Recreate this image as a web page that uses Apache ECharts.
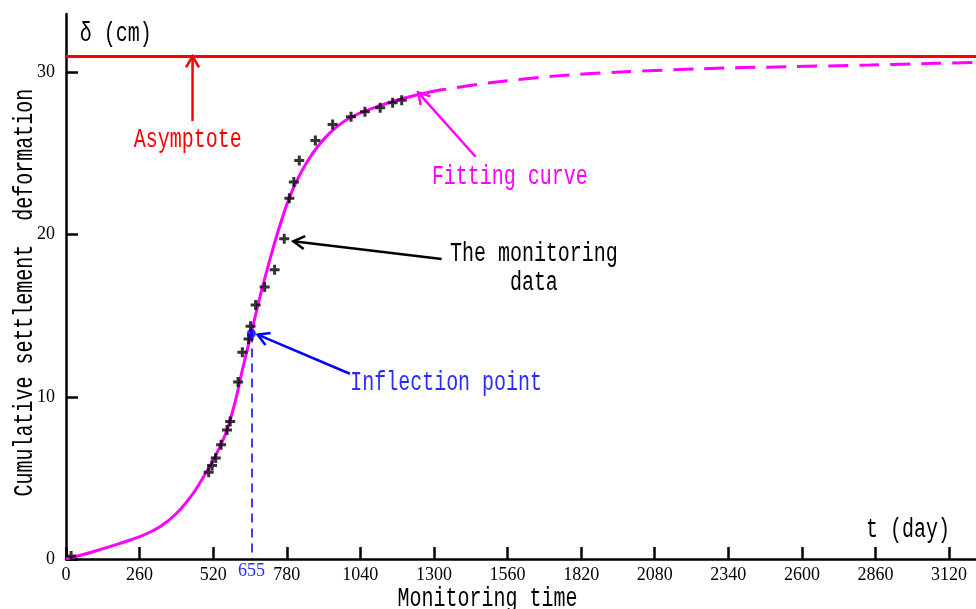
<!DOCTYPE html>
<html lang="en" style="height: 100%">
<head>
<meta charset="utf-8">
<title>Settlement fitting curve</title>
</head>
<body style="height: 100%; margin: 0">
<div id="container" style="height: 100%"></div>

<script type="text/javascript" src="https://cdn.jsdelivr.net/npm/echarts@6/dist/echarts.min.js"></script>

<script type="text/javascript">

var dom = document.getElementById('container');
var myChart = echarts.init(dom);

// axis ticks
var xTicks = [0, 260, 520, 780, 1040, 1300, 1560, 1820, 2080, 2340, 2600, 2860, 3120];
var yTicks = [0, 10, 20, 30];

// monitoring data [day, cm]
var monitoringData = [
    [18, 0.19], [504, 5.35], [516, 5.76], [529, 6.22], [548, 7.04], [569, 7.96],
    [580, 8.48], [608, 10.91], [623, 12.75], [645, 13.56], [652, 14.35], [670, 15.66],
    [702, 16.77], [737, 17.84], [771, 19.75], [789, 22.24], [805, 23.25], [824, 24.57],
    [881, 25.80], [942, 26.79], [1007, 27.27], [1056, 27.57], [1110, 27.82],
    [1154, 28.13], [1186, 28.29]
];

// fitting curve
var fitSolid = [
    [0, 0], [96, 0.45], [261, 1.38], [332, 1.99], [391, 2.82], [450, 4.06],
    [497, 5.4], [532, 6.5], [568, 7.9], [600, 9.85], [625, 11.8], [655, 13.95],
    [680, 15.8], [703, 17.35], [744, 19.9], [791, 22.36], [850, 24.43], [921, 26.07],
    [1003, 27.2], [1109, 27.95], [1203, 28.45], [1274, 28.75]
];
var fitDashed = [
    [1274, 28.75], [1321, 28.91], [1498, 29.36], [1721, 29.77], [1957, 30.02],
    [2251, 30.23], [2546, 30.35], [2840, 30.45], [3070, 30.56], [3215, 30.62]
];

var inflection = [655, 13.9];
var asymptote = 31;

// annotation arrows: tail -> head
var arrowTails = [[447, 27.0], [1447, 24.8], [1327, 18.5], [1003, 11.42]];
var arrowHeads = [[447, 31.0], [1244, 28.77], [803, 19.59], [677, 13.83]];
var arrowColors = ['#ff0000', '#ff00ff', '#000000', '#0000ff'];

// text labels
var labelTexts = ['Asymptote', 'Fitting curve', 'The monitoring\ndata', 'Inflection point',
    'δ (cm)', 't (day)', 'Monitoring time', 'Cumulative settlement  deformation'];
var labelPos = [[430, 25.86], [1568, 23.58], [1653, 17.93], [1343, 10.85],
    [49, 32.4], [3123, 1.79], [1489, -2.47], [-145, 16.42]];
var labelColors = ['#ff0000', '#ff00ff', '#000000', '#2b2bff',
    '#000000', '#000000', '#000000', '#000000'];
var labelAlign = ['center', 'center', 'center', 'center', 'left', 'right', 'center', 'center'];
var labelRotate = [0, 0, 0, 0, 0, 0, 0, Math.PI / 2];

var crossSymbol = 'path://M3.5,0H6.5V3.5H10V6.5H6.5V10H3.5V6.5H0V3.5H3.5Z';

function renderArrow(params, api) {
    var a = api.coord([api.value(0), api.value(1)]);
    var b = api.coord([api.value(2), api.value(3)]);
    var ang = Math.atan2(a[1] - b[1], a[0] - b[0]);
    var len = 13, spread = Math.PI / 6;
    var color = arrowColors[params.dataIndex];
    return {
        type: 'group',
        children: [
            {
                type: 'line',
                shape: { x1: a[0], y1: a[1], x2: b[0], y2: b[1] },
                style: { stroke: color, lineWidth: 2.5 }
            },
            {
                type: 'polyline',
                shape: {
                    points: [
                        [b[0] + len * Math.cos(ang + spread), b[1] + len * Math.sin(ang + spread)],
                        b,
                        [b[0] + len * Math.cos(ang - spread), b[1] + len * Math.sin(ang - spread)]
                    ]
                },
                style: { stroke: color, lineWidth: 2.5, fill: null }
            }
        ]
    };
}

function renderLabel(params, api) {
    var i = params.dataIndex;
    var p = api.coord([api.value(0), api.value(1)]);
    return {
        type: 'text',
        x: p[0],
        y: p[1],
        rotation: labelRotate[i],
        scaleX: 0.74,
        style: {
            text: labelTexts[i],
            fill: labelColors[i],
            fontFamily: 'Liberation Mono',
            fontSize: 27,
            lineHeight: 29,
            align: labelAlign[i],
            verticalAlign: 'middle'
        }
    };
}

var axisLineStyle = { color: '#000', width: 2.5 };

function plainNumber(v) {
    return String(v);
}

option = {
    animation: false,
    grid: { left: 66, right: 0, top: 14, bottom: 50 },
    xAxis: {
        type: 'value',
        min: 0,
        max: 3215,
        splitLine: { show: false },
        axisLine: { lineStyle: axisLineStyle },
        axisTick: { inside: true, length: 12, customValues: xTicks, lineStyle: axisLineStyle },
        axisLabel: {
            customValues: xTicks,
            formatter: plainNumber,
            margin: 7,
            color: '#000',
            fontFamily: 'Liberation Serif',
            fontSize: 18
        }
    },
    yAxis: {
        type: 'value',
        min: 0,
        max: 33.6,
        splitLine: { show: false },
        axisLine: { lineStyle: axisLineStyle },
        axisTick: { inside: true, length: 12, customValues: yTicks, lineStyle: axisLineStyle },
        axisLabel: {
            customValues: yTicks,
            formatter: plainNumber,
            margin: 11,
            color: '#000',
            fontFamily: 'Liberation Serif',
            fontSize: 18
        }
    },
    series: [
        {
            name: 'Fitting curve',
            type: 'line',
            data: fitSolid,
            smooth: 0.3,
            showSymbol: false,
            silent: true,
            lineStyle: { color: '#ff00ff', width: 3 },
            markLine: {
                silent: true,
                symbol: ['none', 'none'],
                label: { show: false },
                lineStyle: { color: '#ff0000', width: 3, type: 'solid' },
                data: [{ yAxis: asymptote }]
            }
        },
        {
            name: 'Fitting curve (extrapolated)',
            type: 'line',
            data: fitDashed,
            smooth: 0.3,
            showSymbol: false,
            silent: true,
            lineStyle: { color: '#ff00ff', width: 3, type: [20, 11] }
        },
        {
            name: 'The monitoring data',
            type: 'scatter',
            data: monitoringData,
            symbol: crossSymbol,
            symbolSize: 10,
            itemStyle: { color: '#000' },
            z: 5
        },
        {
            name: 'Inflection point',
            type: 'scatter',
            data: [inflection],
            symbol: 'circle',
            symbolSize: 9,
            itemStyle: { color: '#0000ff' },
            z: 6,
            markLine: {
                silent: true,
                symbol: ['none', 'none'],
                lineStyle: { color: '#0000ff', width: 1.5, type: [9, 6] },
                label: {
                    show: true,
                    position: 'end',
                    distance: 3,
                    formatter: String(inflection[0]),
                    color: '#2b2bff',
                    fontFamily: 'Liberation Serif',
                    fontSize: 18
                },
                data: [[{ coord: inflection }, { coord: [inflection[0], 0] }]]
            }
        },
        {
            type: 'custom',
            silent: true,
            renderItem: renderArrow,
            encode: { x: [0, 2], y: [1, 3] },
            data: arrowTails.map(function (t, i) {
                return [t[0], t[1], arrowHeads[i][0], arrowHeads[i][1]];
            }),
            z: 4
        },
        {
            type: 'custom',
            silent: true,
            clip: false,
            renderItem: renderLabel,
            encode: { x: 0, y: 1 },
            data: labelPos,
            z: 4
        }
    ]
};

if (option && typeof option === 'object') {
    myChart.setOption(option);
}

window.addEventListener('resize', myChart.resize);
</script>
</body>
</html>
